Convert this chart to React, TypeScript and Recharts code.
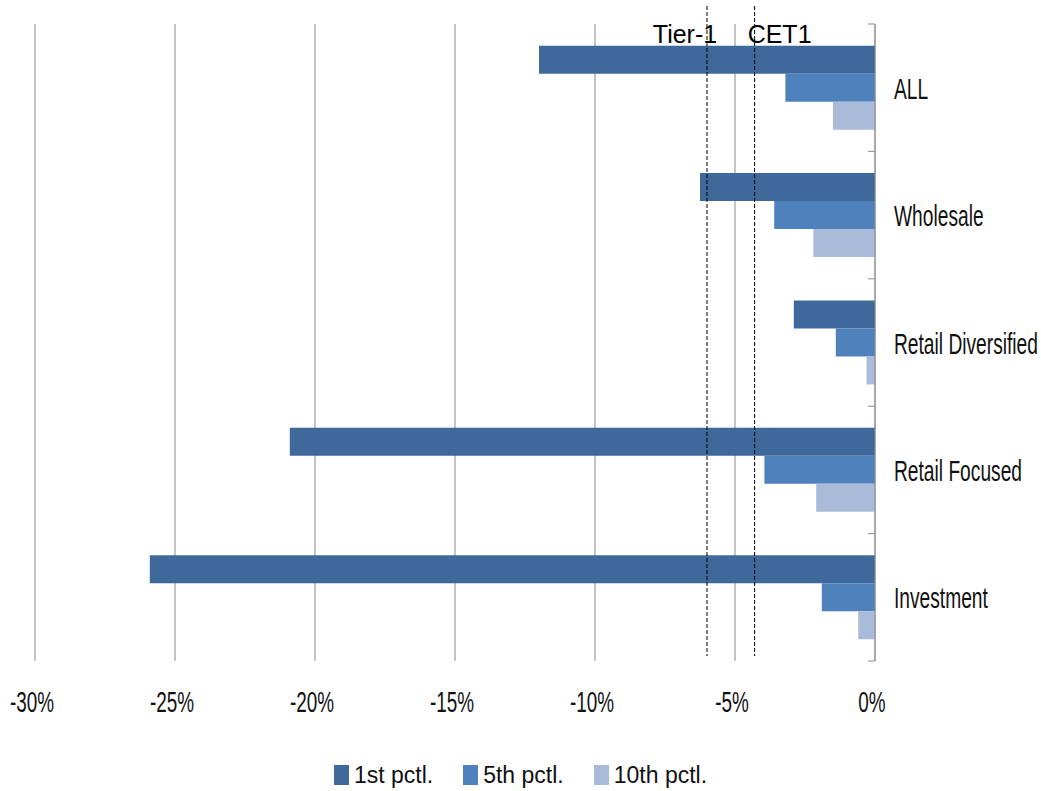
import { BarChart, Bar, XAxis, YAxis, CartesianGrid, ReferenceLine, Legend } from 'recharts'

const categories = ['ALL', 'Wholesale', 'Retail Diversified', 'Retail Focused', 'Investment']
const pctl1 = [-12.0, -6.25, -2.9, -20.9, -25.9]
const pctl5 = [-3.2, -3.6, -1.4, -3.95, -1.9]
const pctl10 = [-1.5, -2.2, -0.3, -2.1, -0.6]
const seriesNames = ['1st pctl.', '5th pctl.', '10th pctl.']
const xTicks = [-30, -25, -20, -15, -10, -5, 0]
const thresholdNames = ['Tier-1', 'CET1']
const thresholdValues = [-6.0, -4.3]

const data = categories.map((name, i) => ({
  name,
  p1: pctl1[i],
  p5: pctl5[i],
  p10: pctl10[i],
}))

const SANS = '"Liberation Sans", Arial, sans-serif'
const GRID = '#8c8c8c'

// x tick: condensed text under each gridline
function XTick({ x, y, payload }: any) {
  return (
    <text
      transform={`translate(${x - 3},${y + 51}) scale(0.63,1)`}
      textAnchor="middle"
      fontFamily={SANS}
      fontSize={30}
      fill="#111"
    >
      {`${payload.value}%`}
    </text>
  )
}

// category tick: label to the right of the axis plus small marks at band edges
function CategoryTick({ x, y, payload, index }: any) {
  const half = payload.offset ?? 63.7
  return (
    <g>
      {index === 0 && <line x1={x - 7} x2={x} y1={y - half} y2={y - half} stroke={GRID} />}
      <line x1={x - 7} x2={x} y1={y + half} y2={y + half} stroke={GRID} />
      <text
        transform={`translate(${x + 19},${y + 11}) scale(0.64,1)`}
        textAnchor="start"
        fontFamily={SANS}
        fontSize={30}
        fill="#111"
      >
        {payload.value}
      </text>
    </g>
  )
}

// dashed threshold line that runs a bit above the plot, with its caption
function thresholdShape(label: string, dx: number) {
  return (props: any) => {
    const { x1, y1, y2 } = props
    const top = Math.min(y1, y2)
    const bottom = Math.max(y1, y2)
    return (
      <g>
        <line x1={x1} x2={x1} y1={top - 18} y2={bottom - 5} stroke="#000" strokeDasharray="4 2" />
        <text x={x1 + dx} y={top + 19} textAnchor="middle" fontFamily={SANS} fontSize={25} fill="#000">
          {label}
        </text>
      </g>
    )
  }
}

function LegendContent({ payload }: any) {
  return (
    <div
      style={{
        display: 'flex',
        justifyContent: 'center',
        alignItems: 'center',
        height: 30,
        gap: 30,
        fontFamily: SANS,
        fontSize: 23,
        color: '#111',
      }}
    >
      {(payload || []).map((entry: any) => (
        <span key={entry.value} style={{ display: 'flex', alignItems: 'center' }}>
          <span style={{ width: 15, height: 20, background: entry.color, marginRight: 5 }} />
          {entry.value}
        </span>
      ))}
    </div>
  )
}

const labelDx = [-22, 25]

export default function App() {
  return (
    <div style={{ position: 'absolute', left: 0, top: 0 }}>
      <BarChart
        width={1041}
        height={791}
        data={data}
        layout="vertical"
        margin={{ top: 24, right: 0, bottom: 1, left: 35 }}
        barCategoryGap="17%"
        barGap={0}
      >
        <CartesianGrid horizontal={false} stroke={GRID} />
        <XAxis
          type="number"
          domain={[-30, 0]}
          ticks={xTicks}
          interval={0}
          axisLine={false}
          tickLine={false}
          tickSize={0}
          tickMargin={0}
          height={99}
          tick={<XTick />}
        />
        <YAxis
          type="category"
          dataKey="name"
          orientation="right"
          width={166}
          interval={0}
          axisLine={{ stroke: GRID }}
          tickLine={false}
          tickSize={0}
          tickMargin={0}
          tick={<CategoryTick />}
        />
        <Bar dataKey="p1" name={seriesNames[0]} fill="#3F689B" isAnimationActive={false} />
        <Bar dataKey="p5" name={seriesNames[1]} fill="#4F81BD" isAnimationActive={false} />
        <Bar dataKey="p10" name={seriesNames[2]} fill="#AABAD9" isAnimationActive={false} />
        {thresholdValues.map((v, i) => (
          <ReferenceLine key={thresholdNames[i]} x={v} shape={thresholdShape(thresholdNames[i], labelDx[i])} />
        ))}
        <Legend
          verticalAlign="bottom"
          content={<LegendContent />}
          itemSorter={(item: any) => seriesNames.indexOf(item.value)}
          wrapperStyle={{ left: 0, width: 1041 }}
        />
      </BarChart>
    </div>
  )
}
